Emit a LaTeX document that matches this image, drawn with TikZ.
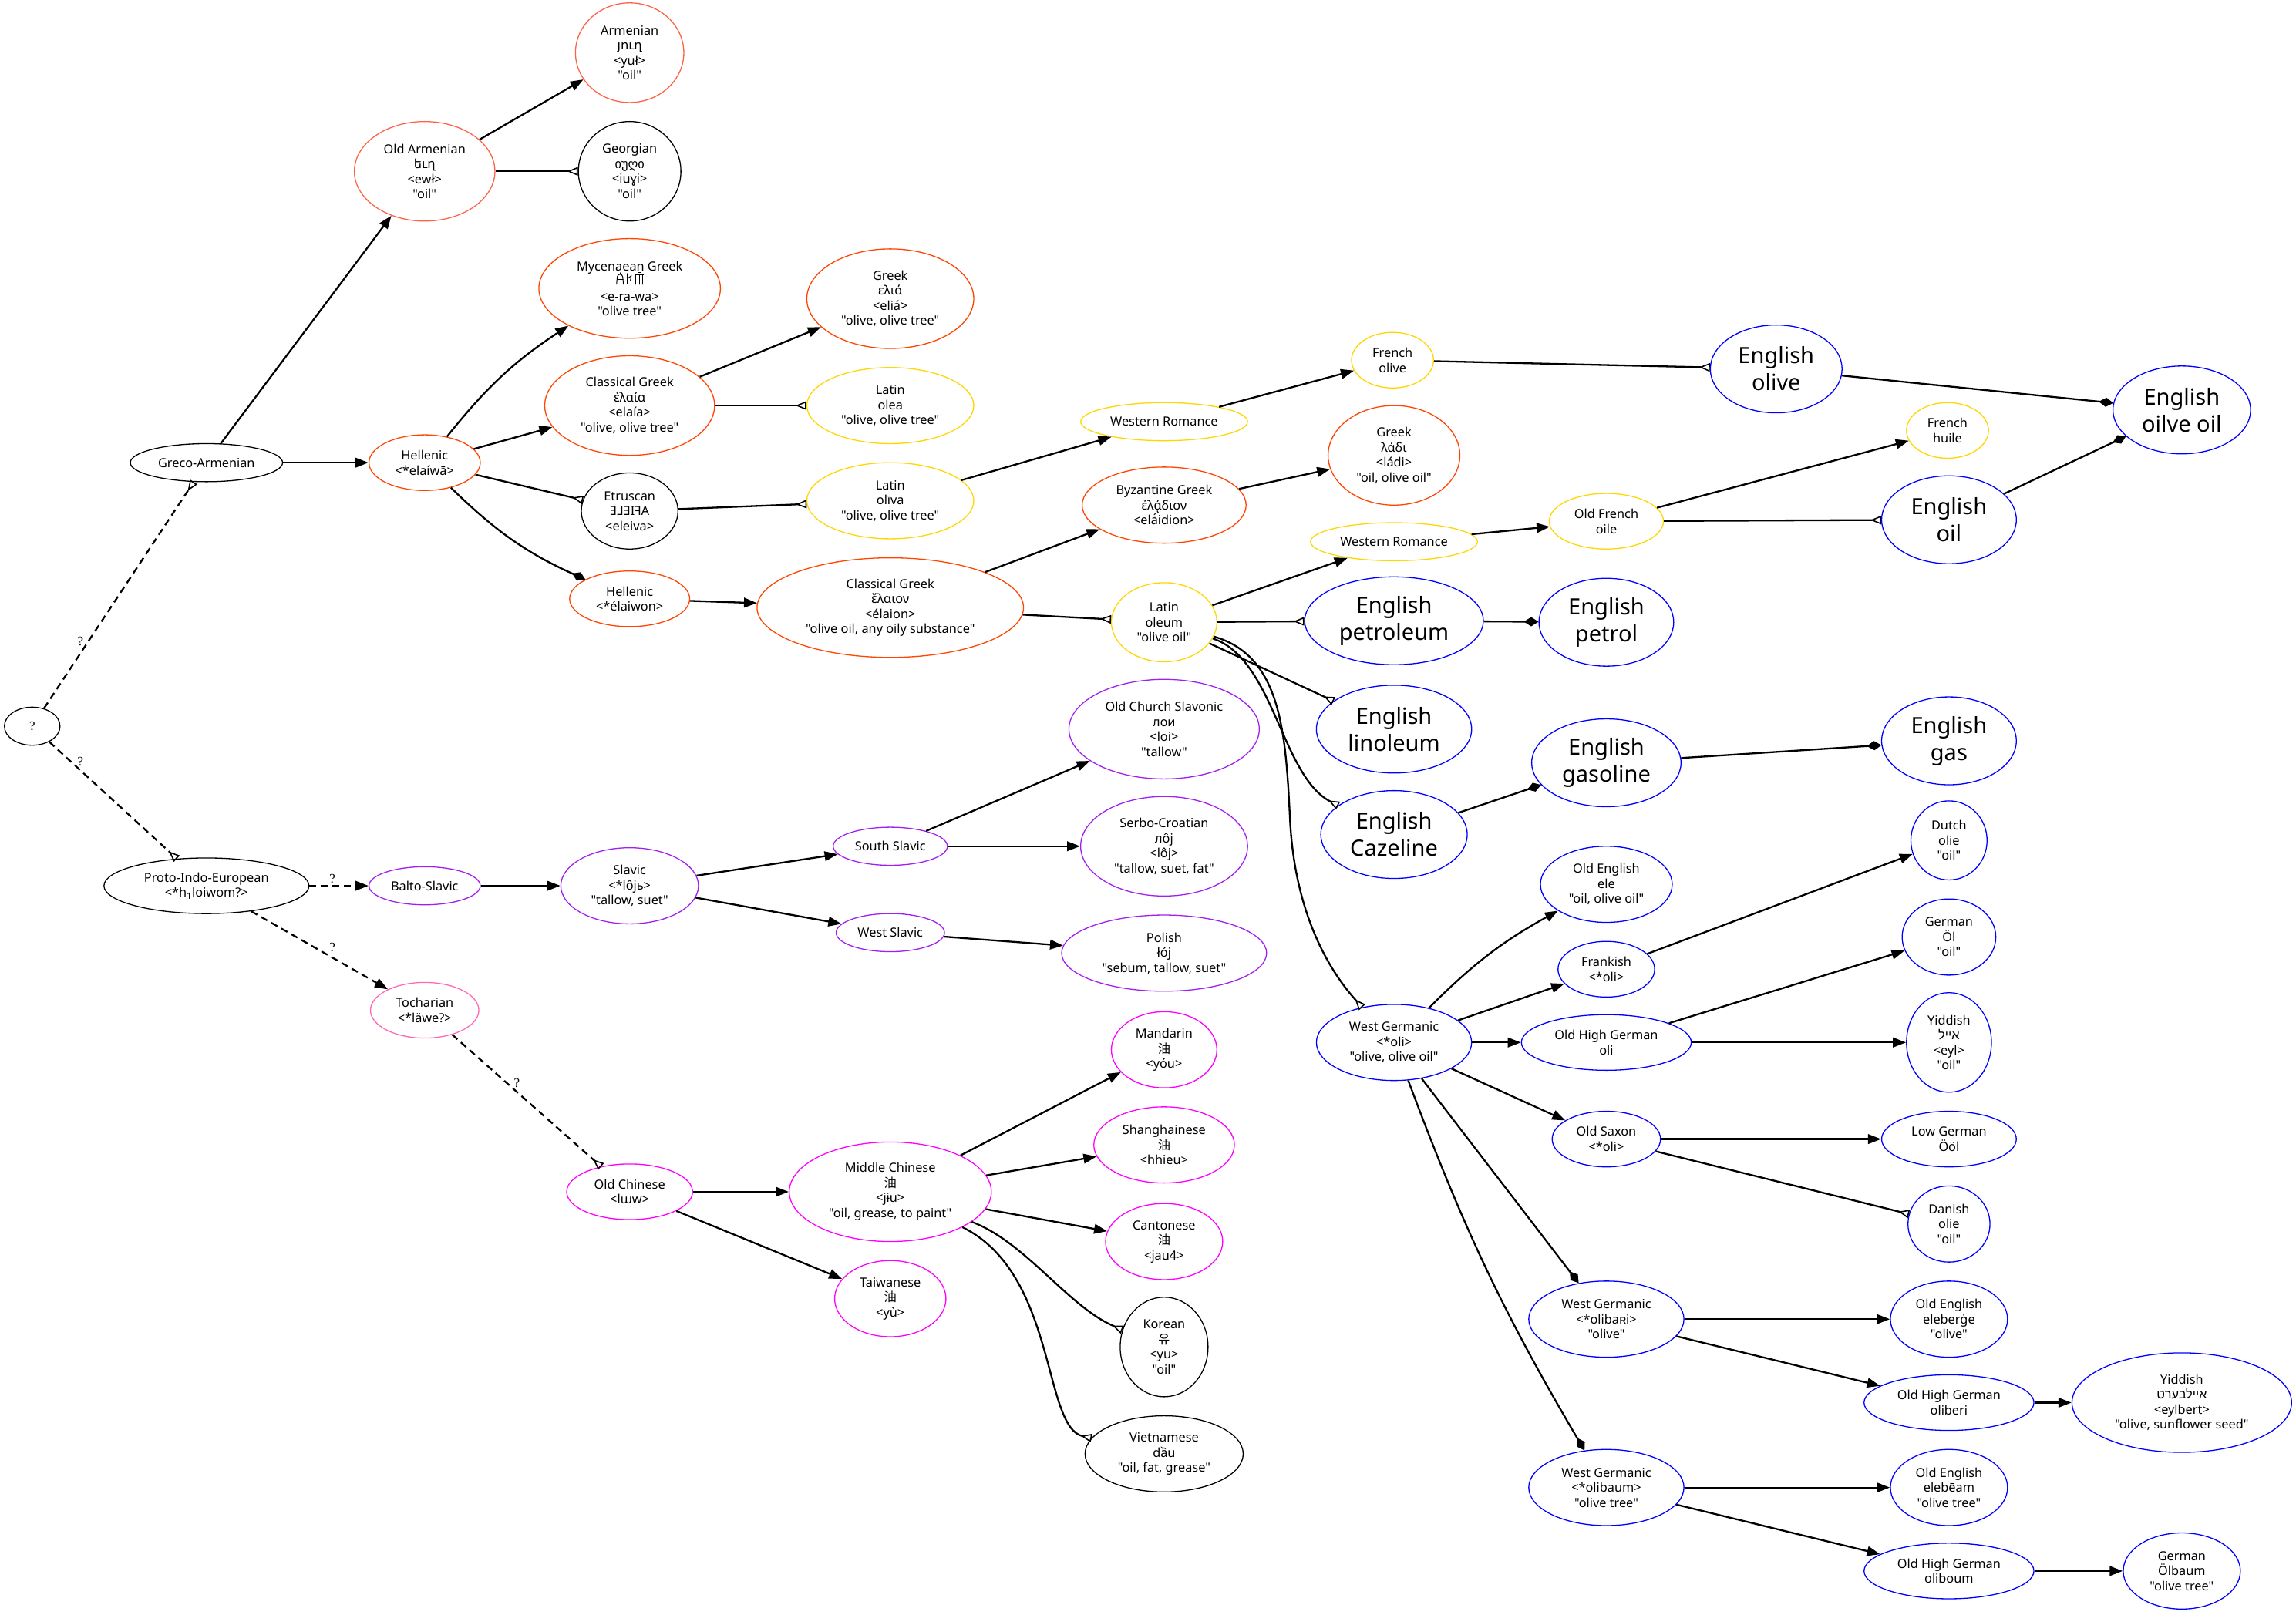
\documentclass[tikz,border=0pt]{standalone}
\usepackage{fontspec}
\usepackage{graphicx}
\setmainfont{Noto Sans}[Ligatures=TeXOff]
\newfontfamily\djv{DejaVu Sans}[Ligatures=TeXOff]
\newfontfamily\hebfont[Script=Hebrew]{Liberation Sans}
\newfontfamily\cjk{Noto Sans CJK SC}
\newfontfamily\serifq{Liberation Serif}
\TeXXeTstate=1
\usetikzlibrary{shapes.geometric,arrows.meta}
\definecolor{cTomato}{HTML}{FF6347}
\definecolor{cOrange}{HTML}{FF4500}
\definecolor{cGold}{HTML}{FFD700}
\definecolor{cBlue}{HTML}{0000FF}
\definecolor{cPurple}{HTML}{A020F0}
\definecolor{cMagenta}{HTML}{FF00FF}
\definecolor{cPink}{HTML}{FF69B4}
\newcommand\hebr[1]{{\hebfont\beginR #1\endR}}
\newcommand\etrglyphs{\reflectbox{E}\reflectbox{L}\reflectbox{E}I\reflectbox{F}\reflectbox{A}}
\tikzset{
  nd/.style={ellipse, draw=#1, line width=1.3pt, inner sep=0pt, align=center,
    font=\fontsize{16.3}{19.5}\selectfont},
  sz/.style 2 args={minimum width=#1*3.79846pt, minimum height=#2*3.79846pt},
  bigtext/.style={font=\fontsize{29}{35}\selectfont},
  nrm/.style={line width=2.3pt, -{Triangle[length=17pt,width=12.5pt]}},
  oinv/.style={line width=2.3pt, -{Triangle[open,reversed,length=14pt,width=11pt,line width=1.6pt]}},
  dia/.style={line width=2.3pt, -{Diamond[length=19pt,width=12pt]}},
  dsh/.style={dash pattern=on 9pt off 6pt},
  lbl/.style={font=\serifq\fontsize{17}{19}\selectfont, inner sep=0pt}
}
\begin{document}
\begin{tikzpicture}[x=1.89923pt, y=-1.89923pt]
\fill[white] (0,0) rectangle (1568,1103);
\useasboundingbox (0,0) rectangle (1568,1103);

% ---- nodes ----
\node[nd=cTomato, sz={37}{34}] (arm) at (430,36) {Armenian\\{\djv յուղ}\\<yuł>\\"oil"};
\node[nd=cTomato, sz={48}{34}] (oarm) at (290,117) {Old Armenian\\{\djv եւղ}\\<ewł>\\"oil"};
\node[nd=black, sz={35}{34}] (geo) at (430,117) {Georgian\\{\djv იუღი}\\<iuɣi>\\"oil"};
\node[nd=cOrange, sz={62}{34}] (myc) at (430,197) {Mycenaean Greek\\\strut\\<e-ra-wa>\\"olive tree"};
\node[nd=cOrange, sz={58}{34}] (cgr1) at (430,277) {Classical Greek\\ἐλαία\\<elaía>\\"olive, olive tree"};
\node[nd=cOrange, sz={57}{34}] (gre1) at (608,204) {Greek\\ελιά\\<eliá>\\"olive, olive tree"};
\node[nd=cGold, sz={57}{26}] (lolea) at (608,277) {Latin\\olea\\"olive, olive tree"};
\node[nd=cOrange, sz={38}{19}] (hel1) at (290,316) {Hellenic\\<*elaíwā>};
\node[nd=black, sz={52}{13}] (ga) at (141,316) {Greco-Armenian};
\node[nd=black, sz={33}{26}] (etr) at (430,349) {Etruscan\\\etrglyphs\\<eleiva>};
\node[nd=cGold, sz={57}{26}] (loliva) at (608,342) {Latin\\olīva\\"olive, olive tree"};
\node[nd=cGold, sz={57}{13}] (wr1) at (795,288) {Western Romance};
\node[nd=cGold, sz={28}{19}] (frol) at (951,246) {French\\olive};
\node[nd=cBlue, sz={45}{30}, bigtext] (enol) at (1213,252) {English\\olive};
\node[nd=cBlue, sz={47}{30}, bigtext] (enoo) at (1490,280) {English\\oilve oil};
\node[nd=cGold, sz={28}{19}] (frhu) at (1330,294) {French\\huile};
\node[nd=cBlue, sz={46}{30}, bigtext] (enoil) at (1331,355) {English\\oil};
\node[nd=cGold, sz={39}{19}] (ofr) at (1097,356) {Old French\\oile};
\node[nd=cGold, sz={57}{13}] (wr2) at (952,370) {Western Romance};
\node[nd=cOrange, sz={56}{26}] (byz) at (795,345) {Byzantine Greek\\ἐλᾴδιον\\<elā́idion>};
\node[nd=cOrange, sz={45}{34}] (ladi) at (952,311) {Greek\\λάδι\\<ládi>\\"oil, olive oil"};
\node[nd=cGold, sz={36}{27}] (lol) at (795,425) {Latin\\oleum\\"olive oil"};
\node[nd=cBlue, sz={61}{30}, bigtext] (petro) at (952,424) {English\\petroleum};
\node[nd=cBlue, sz={46}{30}, bigtext] (petrol) at (1097,425) {English\\petrol};
\node[nd=cOrange, sz={91}{34}] (cgr2) at (608,415) {Classical Greek\\ἔλαιον\\<élaion>\\"olive oil, any oily substance"};
\node[nd=cOrange, sz={41}{19}] (hel2) at (430,409) {Hellenic\\<*élaiwon>};
\node[nd=cBlue, sz={53}{30}, bigtext] (lino) at (952,498) {English\\linoleum};
\node[nd=cBlue, sz={51}{30}, bigtext] (gasol) at (1097,521) {English\\gasoline};
\node[nd=cBlue, sz={46}{30}, bigtext] (gas) at (1331,506) {English\\gas};
\node[nd=cBlue, sz={50}{30}, bigtext] (caz) at (952,570) {English\\Cazeline};
\node[nd=black, sz={19}{13}, font=\serifq\fontsize{17}{19}\selectfont] (q) at (22,496) {?};
\node[nd=black, sz={70}{19}] (pie) at (141,605) {Proto-Indo-European\\<*h\textsubscript{1}loiwom?>};
\node[nd=cPurple, sz={38}{13}] (bs) at (290,605) {Balto-Slavic};
\node[nd=cPurple, sz={47}{26}] (sla) at (430,605) {Slavic\\<*lôjь>\\"tallow, suet"};
\node[nd=cPink, sz={37}{19}] (toch) at (290,690) {Tocharian\\<*läwe?>};
\node[nd=cPurple, sz={39}{13}] (ssl) at (608,578) {South Slavic};
\node[nd=cPurple, sz={37}{13}] (wsl) at (608,637) {West Slavic};
\node[nd=cPurple, sz={65}{34}] (ocs) at (795,498) {Old Church Slavonic\\лои\\<loi>\\"tallow"};
\node[nd=cPurple, sz={57}{34}] (sc) at (795,578) {Serbo-Croatian\\лôј\\<lôj>\\"tallow, suet, fat"};
\node[nd=cPurple, sz={70}{26}] (pol) at (795,651) {Polish\\łój\\"sebum, tallow, suet"};
\node[nd=cMagenta, sz={43}{19}] (och) at (430,814) {Old Chinese\\<lɯw>};
\node[nd=cMagenta, sz={69}{34}] (mch) at (608,814) {Middle Chinese\\{\cjk 油}\\<jɨu>\\"oil, grease, to paint"};
\node[nd=cMagenta, sz={38}{26}] (tw) at (608,887) {Taiwanese\\{\cjk 油}\\<yù>};
\node[nd=cMagenta, sz={36}{26}] (man) at (795,717) {Mandarin\\{\cjk 油}\\<yóu>};
\node[nd=cMagenta, sz={48}{26}] (sh) at (795,782) {Shanghainese\\{\cjk 油}\\<hhieu>};
\node[nd=cMagenta, sz={40}{26}] (can) at (795,848) {Cantonese\\{\cjk 油}\\<jau4>};
\node[nd=black, sz={30}{34}] (kor) at (795,920) {Korean\\{\cjk 유}\\<yu>\\"oil"};
\node[nd=black, sz={54}{26}] (vie) at (795,993) {Vietnamese\\dầu\\"oil, fat, grease"};
\node[nd=cBlue, sz={53}{26}] (wg) at (952,712) {West Germanic\\<*oli>\\"olive, olive oil"};
\node[nd=cBlue, sz={45}{26}] (oe1) at (1097,604) {Old English\\ele\\"oil, olive oil"};
\node[nd=cBlue, sz={33}{19}] (fra) at (1097,662) {Frankish\\<*oli>};
\node[nd=cBlue, sz={58}{19}] (ohg1) at (1097,712) {Old High German\\oli};
\node[nd=cBlue, sz={37}{19}] (osx) at (1097,778) {Old Saxon\\<*oli>};
\node[nd=cBlue, sz={26}{27}] (dut) at (1331,574) {Dutch\\olie\\"oil"};
\node[nd=cBlue, sz={32}{26}] (ger1) at (1331,640) {German\\Öl\\"oil"};
\node[nd=cBlue, sz={29}{34}] (yid1) at (1331,712) {Yiddish\\\hebr{אייל}\\<eyl>\\"oil"};
\node[nd=cBlue, sz={46}{19}] (lg) at (1331,778) {Low German\\Ööl};
\node[nd=cBlue, sz={28}{26}] (dan) at (1331,836) {Danish\\olie\\"oil"};
\node[nd=cBlue, sz={53}{26}] (wg2) at (1097,901) {West Germanic\\<*olibaʀi>\\"olive"};
\node[nd=cBlue, sz={40}{26}] (oe2) at (1331,901) {Old English\\eleberġe\\"olive"};
\node[nd=cBlue, sz={58}{19}] (ohg2) at (1331,958) {Old High German\\oliberi};
\node[nd=cBlue, sz={75}{34}] (yid2) at (1490,958) {Yiddish\\\hebr{איילבערט}\\<eylbert>\\"olive, sunflower seed"};
\node[nd=cBlue, sz={53}{26}] (wg3) at (1097,1016) {West Germanic\\<*olibaum>\\"olive tree"};
\node[nd=cBlue, sz={40}{26}] (oe3) at (1331,1016) {Old English\\elebēam\\"olive tree"};
\node[nd=cBlue, sz={58}{19}] (ohg3) at (1331,1073) {Old High German\\oliboum};
\node[nd=cBlue, sz={40}{26}] (ger2) at (1490,1073) {German\\Ölbaum\\"olive tree"};

% Linear B glyphs (drawn)
\begin{scope}[shift={(430,190.5)}, x=1pt, y=1pt, line width=1pt, line cap=round]
  \draw (-17,-7) -- (-16,3) .. controls (-15,7) and (-10,7) .. (-9,3) -- (-8,-7);
  \draw (-16.4,-1) -- (-8.6,-1);
  \draw (-12.5,6) -- (-12.5,8);
  \draw (-3,7) -- (-3,-7) -- (4,-7);
  \draw (-2,1) -- (2,4) -- (1,-2);
  \draw (7,5) -- (18,5);
  \draw (8,5) -- (8,-7);
  \draw (12.5,5) -- (12.5,-7);
  \draw (17,5) -- (17,-7);
  \draw (10.5,5) -- (10.5,8) -- (14.5,8) -- (14.5,5);
\end{scope}

% edge labels
\node[lbl] (l1) at (55,438) {?};
\node[lbl] (l2) at (55,520) {?};
\node[lbl] (l3) at (227,600) {?};
\node[lbl] (l4) at (227,647) {?};
\node[lbl] (l5) at (353,740) {?};

% ---- edges ----
\draw[oinv, dsh] (q) -- (ga);
\draw[oinv, dsh] (q) -- (pie);
\draw[nrm, dsh] (pie) -- (bs);
\draw[nrm, dsh] (pie) -- (toch);
\draw[oinv, dsh] (toch) -- (och);

\draw[nrm] (ga) -- (oarm);
\draw[nrm] (ga) -- (hel1);
\draw[nrm] (oarm) -- (arm);
\draw[oinv] (oarm) -- (geo);
\draw[nrm] (hel1) to[bend left=9] (myc);
\draw[nrm] (hel1) -- (cgr1);
\draw[oinv] (hel1) -- (etr);
\draw[dia] (hel1) to[bend right=10] (hel2);
\draw[nrm] (cgr1) -- (gre1);
\draw[oinv] (cgr1) -- (lolea);
\draw[oinv] (etr) -- (loliva);
\draw[nrm] (loliva) -- (wr1);
\draw[nrm] (wr1) -- (frol);
\draw[oinv] (frol) -- (enol);
\draw[dia] (enol) -- (enoo);
\draw[nrm] (hel2) -- (cgr2);
\draw[nrm] (cgr2) -- (byz);
\draw[oinv] (cgr2) -- (lol);
\draw[nrm] (byz) -- (ladi);
\draw[nrm] (lol) -- (wr2);
\draw[nrm] (wr2) -- (ofr);
\draw[nrm] (ofr) -- (frhu);
\draw[oinv] (ofr) -- (enoil);
\draw[dia] (enoil) -- (enoo);
\draw[oinv] (lol) -- (petro);
\draw[dia] (petro) -- (petrol);
\draw[oinv] (lol) -- (lino);
\draw[oinv] (lol) .. controls (870,450) and (875,530) .. (caz);
\draw[oinv] (lol) .. controls (875,448) and (878,500) .. (881,560) .. controls (884,620) and (905,660) .. (wg);
\draw[dia] (caz) -- (gasol);
\draw[dia] (gasol) -- (gas);

\draw[nrm] (bs) -- (sla);
\draw[nrm] (sla) -- (ssl);
\draw[nrm] (sla) -- (wsl);
\draw[nrm] (ssl) -- (ocs);
\draw[nrm] (ssl) -- (sc);
\draw[nrm] (wsl) -- (pol);

\draw[nrm] (och) -- (mch);
\draw[nrm] (och) -- (tw);
\draw[nrm] (mch) -- (man);
\draw[nrm] (mch) -- (sh);
\draw[nrm] (mch) -- (can);
\draw[oinv] (mch) .. controls (700,848) and (730,893) .. (kor);
\draw[oinv] (mch) .. controls (722,870) and (712,975) .. (vie);

\draw[nrm] (wg) to[bend left=8] (oe1);
\draw[nrm] (wg) -- (fra);
\draw[nrm] (wg) -- (ohg1);
\draw[nrm] (wg) -- (osx);
\draw[dia] (wg) -- (wg2);
\draw[dia] (wg) to[bend right=5] (wg3);
\draw[nrm] (fra) -- (dut);
\draw[nrm] (ohg1) -- (ger1);
\draw[nrm] (ohg1) -- (yid1);
\draw[nrm] (osx) -- (lg);
\draw[oinv] (osx) -- (dan);
\draw[nrm] (wg2) -- (oe2);
\draw[nrm] (wg2) -- (ohg2);
\draw[nrm] (ohg2) -- (yid2);
\draw[nrm] (wg3) -- (oe3);
\draw[nrm] (wg3) -- (ohg3);
\draw[nrm] (ohg3) -- (ger2);
\end{tikzpicture}
\end{document}
